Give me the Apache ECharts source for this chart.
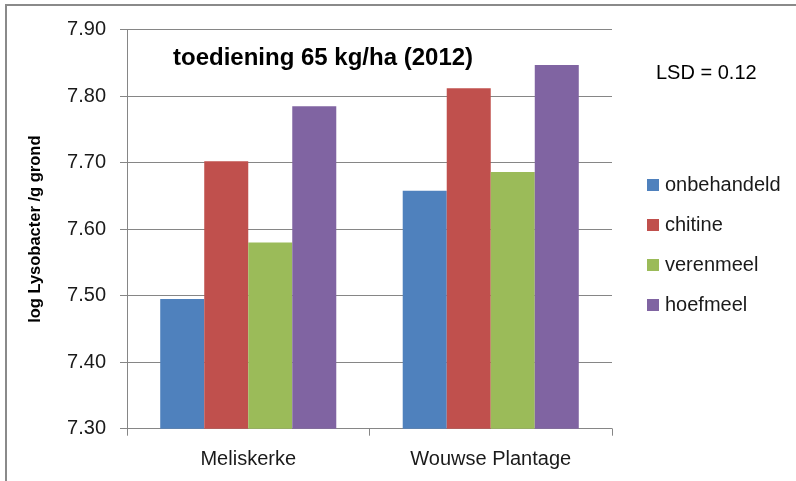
<!DOCTYPE html>
<html>
<head>
<meta charset="utf-8">
<script src="https://cdn.jsdelivr.net/npm/echarts@6/dist/echarts.min.js"></script>
<style>
  html, body { margin: 0; padding: 0; background: #ffffff; }
  #chart { width: 796px; height: 481px; }
</style>
</head>
<body>
<div id="chart"></div>
<script>
// Locations (categories)
const locations = ['Meliskerke', 'Wouwse Plantage'];
// Treatments and their log Lysobacter counts per location
const treatments = ['onbehandeld', 'chitine', 'verenmeel', 'hoefmeel'];
const onbehandeld = [7.495, 7.658];
const chitine = [7.702, 7.812];
const verenmeel = [7.580, 7.686];
const hoefmeel = [7.785, 7.847];
const seriesValues = [onbehandeld, chitine, verenmeel, hoefmeel];
const colors = ['#4F81BD', '#C0504D', '#9BBB59', '#8064A2'];

const font = 'Liberation Sans, Arial, sans-serif';
const textColor = '#1a1a1a';

const chart = echarts.init(document.getElementById('chart'), null, { renderer: 'canvas' });

chart.setOption({
  animation: false,
  backgroundColor: '#ffffff',
  grid: { left: 127, right: 184, top: 29.7, bottom: 52.3 },
  legend: {
    orient: 'vertical',
    left: 642,
    top: 170,
    itemWidth: 12,
    itemHeight: 12,
    itemGap: 20,
    icon: 'rect',
    textStyle: { fontFamily: font, fontSize: 20, color: textColor, padding: [0, 0, 0, 1] },
    data: treatments
  },
  xAxis: {
    type: 'category',
    data: locations,
    axisLine: { lineStyle: { color: '#868686', width: 1 } },
    axisTick: { show: true, length: 7, lineStyle: { color: '#868686' } },
    axisLabel: { fontFamily: font, fontSize: 20, color: textColor, margin: 21 }
  },
  yAxis: {
    type: 'value',
    min: 7.3,
    max: 7.9,
    interval: 0.1,
    name: 'log Lysobacter /g grond',
    nameLocation: 'middle',
    nameGap: 83,
    nameTextStyle: { fontFamily: font, fontSize: 16.5, fontWeight: 'bold', color: '#000000' },
    axisLine: { show: true, lineStyle: { color: '#868686', width: 1 } },
    axisTick: { show: true, length: 7, lineStyle: { color: '#868686' } },
    axisLabel: {
      fontFamily: font, fontSize: 20, color: textColor, margin: 21,
      formatter: v => v.toFixed(2)
    },
    splitLine: { show: true, lineStyle: { color: '#868686', width: 1 } }
  },
  series: treatments.map((name, i) => ({
    name: name,
    type: 'bar',
    data: seriesValues[i],
    barGap: '0%',
    barCategoryGap: '27.4%',
    itemStyle: { color: colors[i] }
  })),
  graphic: [
    {
      type: 'rect',
      shape: { x: 6, y: 5, width: 800, height: 490 },
      style: { fill: 'none', stroke: '#8a8a8a', lineWidth: 2 },
      silent: true
    },
    {
      type: 'text',
      left: 173,
      top: 46,
      style: {
        text: 'toediening 65 kg/ha (2012)',
        fontFamily: font, fontSize: 24, fontWeight: 'bold', fill: '#000000'
      }
    },
    {
      type: 'text',
      left: 656,
      top: 63,
      style: {
        text: 'LSD = 0.12',
        fontFamily: font, fontSize: 20, fill: '#000000'
      }
    }
  ]
});
</script>
</body>
</html>
